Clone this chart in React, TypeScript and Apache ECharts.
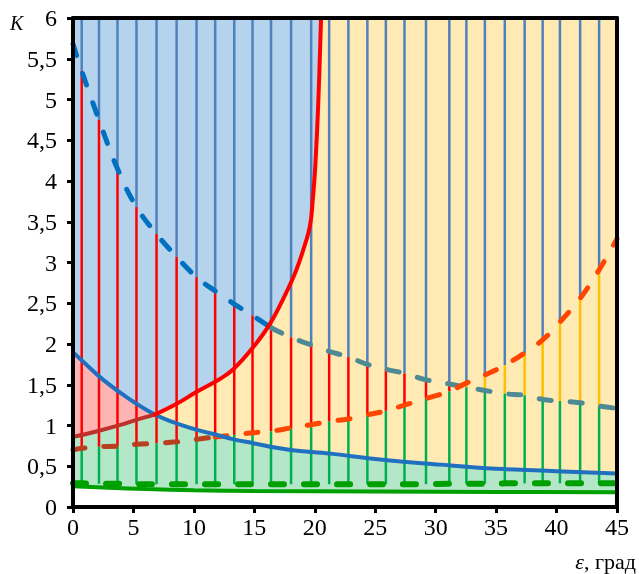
import React, { useEffect, useRef } from "react";
import * as echarts from "echarts";

// x positions of the vertical connector lines (degrees)
const lineX = [0.72, 2.15, 3.68, 5.25, 6.91, 8.57, 10.22, 11.76, 13.34, 14.85, 16.38, 18.04, 19.7, 21.19, 22.78, 24.35, 25.88, 27.42, 29.2, 31.13, 32.54, 34.07, 35.72, 37.36, 38.85, 40.28, 41.95, 43.52];
// dashed curves (x = 0, lineX..., 45)
const curveX = [0, ...lineX, 45];
const curveA = [5.68, 5.35, 4.75, 4.15, 3.68, 3.35, 3.07, 2.82, 2.65, 2.49, 2.35, 2.2, 2.08, 1.99, 1.91, 1.84, 1.75, 1.69, 1.64, 1.56, 1.51, 1.47, 1.43, 1.39, 1.37, 1.32, 1.3, 1.28, 1.24, 1.21];
const curveB = [0.7, 0.72, 0.74, 0.745, 0.77, 0.78, 0.8, 0.83, 0.86, 0.885, 0.91, 0.93, 0.97, 1.01, 1.05, 1.08, 1.13, 1.18, 1.25, 1.33, 1.42, 1.52, 1.62, 1.74, 1.89, 2.05, 2.27, 2.56, 2.91, 3.29];
const curveC = [0.29, 0.29, 0.285, 0.285, 0.28, 0.28, 0.28, 0.28, 0.28, 0.28, 0.28, 0.28, 0.28, 0.28, 0.28, 0.28, 0.28, 0.28, 0.28, 0.28, 0.285, 0.285, 0.285, 0.29, 0.29, 0.29, 0.29, 0.29, 0.29, 0.29];

// solid red curve
const redX = [0, 2, 4, 5.25, 6.77, 8.5, 10.2, 12.15, 13.26, 14.9, 16.3, 17.7, 18.4, 19.06, 19.6, 19.85, 20.05, 20.3, 20.52];
const redY = [0.86, 0.93, 1.01, 1.07, 1.134, 1.26, 1.41, 1.57, 1.69, 1.96, 2.25, 2.65, 2.88, 3.16, 3.45, 3.8, 4.2, 5.0, 6.0];
// solid blue curve
const blueX = [0, 1, 2.5, 4.7, 6.77, 8.5, 10.2, 12, 13.3, 15, 16.3, 18, 21.3, 25, 30.4, 35, 40, 45];
const blueY = [1.9, 1.76, 1.56, 1.32, 1.134, 1.03, 0.95, 0.88, 0.83, 0.78, 0.74, 0.7, 0.655, 0.59, 0.52, 0.47, 0.44, 0.41];
// solid green curve
const greenX = [0, 3, 6, 10, 15, 25, 35, 45];
const greenY = [0.255, 0.235, 0.22, 0.205, 0.195, 0.19, 0.185, 0.18];

// where the drawn colours change
const crossRedBlue = 6.77; // red and blue solid curves meet
const splitA = 11; // index in curveX where dashed A enters the yellow area
const splitB = 8; // index in curveX where dashed B leaves the green area

const xTicks = { min: 0, max: 45, interval: 5 };
const yTicks = { min: 0, max: 6, interval: 0.5 };

const pairs = (xs: number[], ys: number[]) => xs.map((x, i) => [x, ys[i]]);

export default function App() {
  const ref = useRef<HTMLDivElement>(null);
  useEffect(() => {
    if (!ref.current) return;
    const chart = echarts.init(ref.current, undefined, { renderer: "svg" });

    const red = pairs(redX, redY);
    const blue = pairs(blueX, blueY);
    const green = pairs(greenX, greenY);
    const A = pairs(curveX, curveA);
    const B = pairs(curveX, curveB);
    const maxCurve = [...blue.filter((p) => p[0] < crossRedBlue), ...red.filter((p) => p[0] >= crossRedBlue)];
    const minCurve = [...red.filter((p) => p[0] < crossRedBlue), ...blue.filter((p) => p[0] >= crossRedBlue)];
    const pink = blue.filter((p) => p[0] <= crossRedBlue);

    const segColors = ["#4f81bd", "#ff0000", "#00b050", "#ffc000"];
    const segs: number[][] = [];
    lineX.forEach((x, i) => {
      const a = curveA[i + 1];
      const b = curveB[i + 1];
      const c = curveC[i + 1];
      segs.push([x, yTicks.max, Math.max(a, b), 0]);
      if (a > b) segs.push([x, a, b, 1]);
      else segs.push([x, b, a, 3]);
      segs.push([x, Math.min(a, b), c, 2]);
    });

    const SM = 0.4;
    const fill = (data: number[][], color: string, origin: string) => ({
      type: "line",
      z: 1,
      data,
      symbol: "none",
      smooth: SM,
      silent: true,
      lineStyle: { width: 0, opacity: 0 },
      areaStyle: { color, opacity: 1, origin },
    });
    const curve = (data: number[][], color: string, width: number, z: number, dash?: number[]) => ({
      type: "line",
      z,
      data,
      symbol: "none",
      smooth: SM,
      silent: true,
      lineStyle: { color, width, type: dash ? dash : "solid", cap: "round" },
    });

    const serif = "'Liberation Serif', 'Times New Roman', serif";

    const axisCommon = {
      axisLine: { show: true, onZero: false, lineStyle: { color: "#000", width: 4 } },
      splitLine: { show: false },
      z: 10,
    };

    chart.setOption({
      animation: false,
      grid: { left: 73, right: 22, top: 18, bottom: 67, show: true, backgroundColor: "#ffeab4", borderWidth: 0 },
      xAxis: [
        {
          type: "value", ...xTicks, position: "bottom", ...axisCommon,
          axisTick: { show: true, length: 6, lineStyle: { color: "#000", width: 3 } },
          axisLabel: { fontFamily: serif, fontSize: 24, color: "#000", margin: 8 },
        },
        {
          type: "value", ...xTicks, position: "top", ...axisCommon,
          axisTick: { show: false }, axisLabel: { show: false },
        },
      ],
      yAxis: [
        {
          type: "value", ...yTicks, position: "left", ...axisCommon,
          axisTick: { show: true, length: 6, lineStyle: { color: "#000", width: 3 } },
          axisLabel: {
            fontFamily: serif, fontSize: 24, color: "#000", margin: 16,
            formatter: (v: number) => String(v).replace(".", ","),
          },
        },
        {
          type: "value", ...yTicks, position: "right", ...axisCommon,
          axisTick: { show: false }, axisLabel: { show: false },
        },
      ],
      series: [
        fill(pink, "#ffb4b4", "start"),
        fill(maxCurve, "#b5d3ec", "end"),
        fill(minCurve, "#b4e6c8", "start"),
        fill(green, "#ffffff", "start"),
        {
          type: "custom",
          z: 3,
          data: segs,
          encode: { x: 0, y: [1, 2] },
          silent: true,
          renderItem: function (params: any, api: any) {
            const x = api.value(0);
            const p1 = api.coord([x, api.value(1)]);
            const p2 = api.coord([x, api.value(2)]);
            return {
              type: "line",
              shape: { x1: p1[0], y1: p1[1], x2: p2[0], y2: p2[1] },
              style: { stroke: segColors[api.value(3)], lineWidth: 2.5 },
            };
          },
        },
        curve(pairs(curveX, curveC), "#00a000", 6, 4, [13, 20]),
        curve(A.slice(0, splitA + 1), "#0070c0", 5, 4, [12, 19]),
        curve(A.slice(splitA), "#4d8a94", 5, 4, [12, 19]),
        curve(B.slice(0, splitB + 1), "#b8401f", 5, 4, [12, 19]),
        curve(B.slice(splitB), "#ff4500", 5, 4, [12, 19]),
        curve(blue, "#2070c0", 4, 5),
        curve(red.filter((p) => p[0] <= crossRedBlue), "#c0302a", 4, 5),
        curve(red.filter((p) => p[0] >= crossRedBlue), "#ff0000", 4, 5),
        curve(green, "#00a000", 4, 5),
      ],
      graphic: [
        {
          type: "text", left: 10, top: 13,
          style: { text: "K", font: `italic 20px ${serif}`, fill: "#000" },
        },
        {
          type: "text", right: 3, bottom: 2,
          style: {
            text: "{i|ε}, град",
            font: `22px ${serif}`,
            fill: "#000",
            rich: { i: { fontStyle: "italic", fontFamily: serif, fontSize: 22, fill: "#000" } },
          },
        },
      ],
    });
    return () => chart.dispose();
  }, []);
  return <div ref={ref} style={{ position: "fixed", left: 0, top: 0, width: 639, height: 574 }} />;
}
